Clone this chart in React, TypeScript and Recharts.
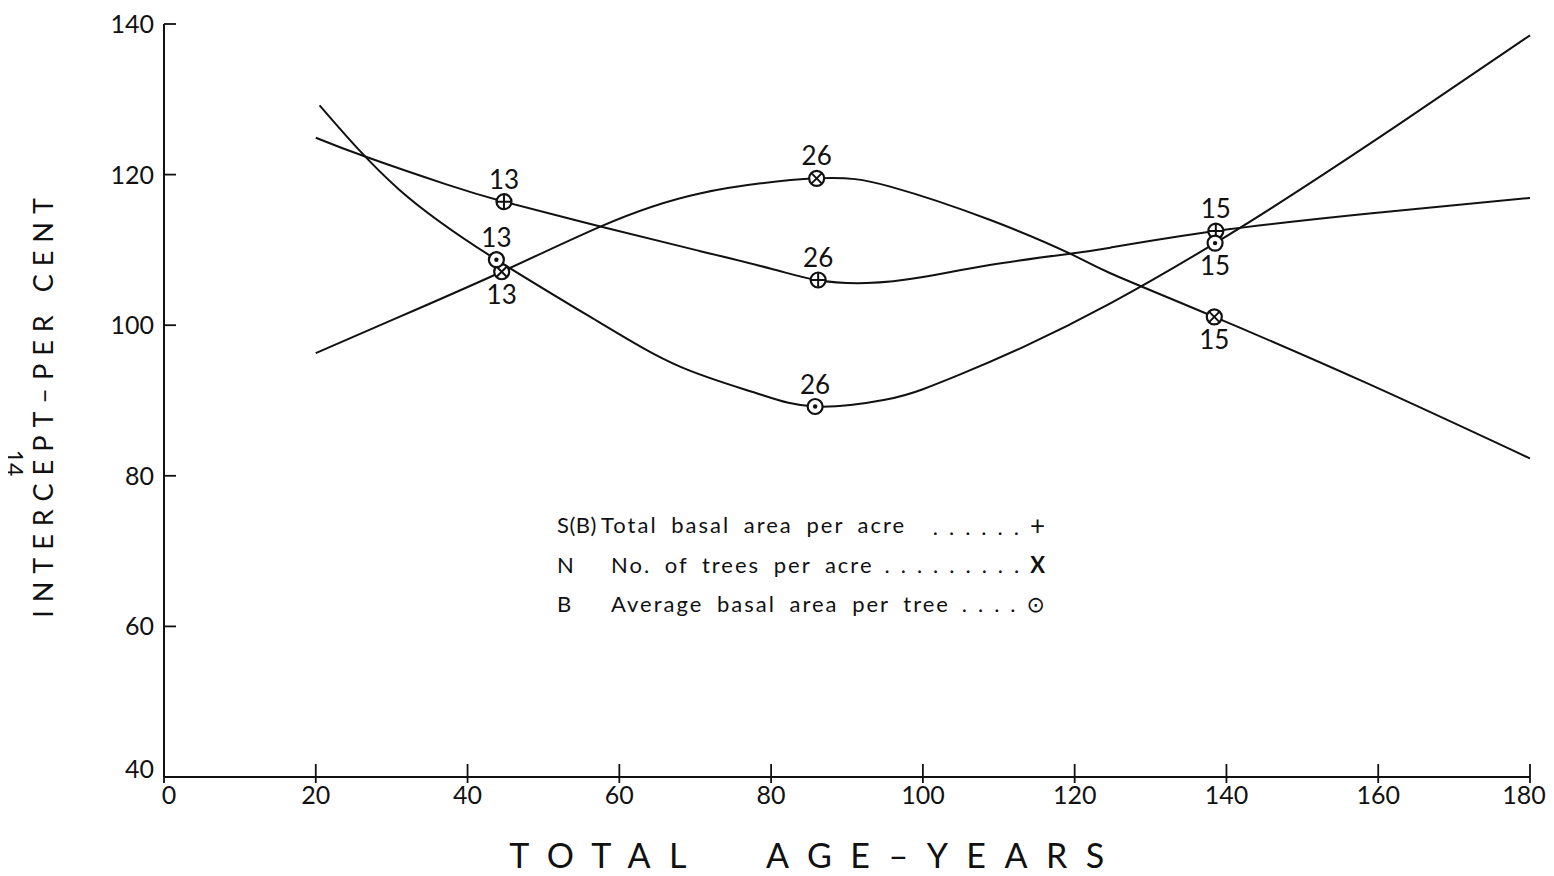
import React from 'react'
import { ComposedChart, Line, Scatter, XAxis, YAxis } from 'recharts'

const ageTicks = [0, 20, 40, 60, 80, 100, 120, 140, 160, 180]
const pctTicks = [40, 60, 80, 100, 120, 140]

// S(B) total basal area per acre
const sbAge = [20, 26.5, 37.2, 44.8, 57.5, 70, 80, 86, 92.6, 100, 108.8, 119.4, 124.7, 138.6, 158.5, 180]
const sbPct = [124.9, 122.4, 118.7, 116.4, 113.1, 110.0, 107.5, 106.0, 105.6, 106.4, 108.0, 109.5, 110.3, 112.5, 114.8, 116.9]

// N no. of trees per acre
const nAge = [20, 31, 44.5, 57.5, 70.6, 86, 95.7, 108.8, 119.4, 124.7, 138.4, 158.5, 180]
const nPct = [96.3, 101.1, 107.1, 113.1, 117.5, 119.5, 118.4, 114.0, 109.5, 106.9, 101.1, 92.3, 82.3]

// B average basal area per tree
const bAge = [20.5, 31, 43.8, 57.5, 68, 78, 85.8, 95, 100, 105, 113.2, 124.7, 138.5, 149.7, 162.9, 180]
const bPct = [129.2, 118.0, 108.7, 100.3, 94.5, 91.0, 89.2, 90.1, 91.5, 93.5, 97.1, 102.9, 110.9, 118.0, 126.8, 138.5]

// plotted sample points, number of plots in each
const plotCounts = [13, 26, 15]
const sbMarkAge = [44.8, 86.2, 138.6]
const sbMarkPct = [116.4, 106.0, 112.5]
const nMarkAge = [44.5, 86, 138.4]
const nMarkPct = [107.1, 119.5, 101.1]
const bMarkAge = [43.8, 85.8, 138.5]
const bMarkPct = [108.7, 89.2, 110.9]
const sbLabelBelow = [false, false, false]
const nLabelBelow = [true, false, true]
const bLabelBelow = [false, false, true]

const ink = '#111'
const font = 'Lato, "DejaVu Sans", sans-serif'

const toLine = (xs: number[], ys: number[]) => xs.map((x, i) => ({ x, y: ys[i] }))
const toMarks = (xs: number[], ys: number[], below: boolean[]) =>
  xs.map((x, i) => ({ x, y: ys[i], count: plotCounts[i], below: below[i] }))

const sbLine = toLine(sbAge, sbPct)
const nLine = toLine(nAge, nPct)
const bLine = toLine(bAge, bPct)
const sbMarks = toMarks(sbMarkAge, sbMarkPct, sbLabelBelow)
const nMarks = toMarks(nMarkAge, nMarkPct, nLabelBelow)
const bMarks = toMarks(bMarkAge, bMarkPct, bLabelBelow)

function makeMarker(kind: 'plus' | 'cross' | 'dot') {
  return (props: any) => {
    const { cx, cy, payload } = props
    const r = 7.5
    const d = r * 0.7
    const ty = payload.below ? cy + 32 : cy - 13
    return (
      <g>
        <circle cx={cx} cy={cy} r={r} fill="#fff" stroke={ink} strokeWidth={2.2} />
        {kind === 'plus' && (
          <path d={`M${cx - r} ${cy}H${cx + r}M${cx} ${cy - r}V${cy + r}`} stroke={ink} strokeWidth={2} />
        )}
        {kind === 'cross' && (
          <path d={`M${cx - d} ${cy - d}L${cx + d} ${cy + d}M${cx - d} ${cy + d}L${cx + d} ${cy - d}`} stroke={ink} strokeWidth={2} />
        )}
        {kind === 'dot' && <circle cx={cx} cy={cy} r={2.2} fill={ink} />}
        <text x={cx} y={ty} textAnchor="middle" fontFamily={font} fontSize={26} fill={ink}>
          {payload.count}
        </text>
      </g>
    )
  }
}

const XTick = (props: any) => {
  const { x, y, payload } = props
  const shift = payload.value === 0 ? 5 : payload.value === 180 ? -6 : 0
  return (
    <g>
      <line x1={x} x2={x} y1={y - 13} y2={y + 6} stroke={ink} strokeWidth={1.8} />
      <text x={x + shift} y={y + 27} textAnchor="middle" fontFamily={font} fontSize={25} fill={ink}>
        {payload.value}
      </text>
    </g>
  )
}

const YTick = (props: any) => {
  const { x, y, payload } = props
  return (
    <g>
      <line x1={x} x2={x + 12} y1={y} y2={y} stroke={ink} strokeWidth={1.8} />
      <text x={x - 10} y={y + (payload.value === 40 ? 1 : 9)} textAnchor="end" fontFamily={font} fontSize={25} fill={ink}>
        {payload.value}
      </text>
    </g>
  )
}

const legendRows = [
  { key: 'S(B)', text: 'Total basal area per acre', dots: '......', sym: '+', textLeft: 601 },
  { key: 'N', text: 'No. of trees per acre', dots: '.........', sym: 'X', textLeft: 611 },
  { key: 'B', text: 'Average basal area per tree', dots: '....', sym: '⊙', textLeft: 611 },
]
const legendTops = [503, 543, 582]

export default function App() {
  return (
    <div style={{ position: 'relative', width: 1538, height: 868, background: '#fff', fontFamily: font, color: ink }}>
      <ComposedChart width={1538} height={868} margin={{ top: 16, right: 16, left: 0, bottom: 0 }}>
        <XAxis
          type="number"
          dataKey="x"
          domain={[0, 180]}
          ticks={ageTicks}
          interval={0}
          height={99}
          tickSize={0}
          tickMargin={0}
          tick={<XTick />}
          axisLine={{ stroke: ink, strokeWidth: 2 }}
          tickLine={false}
        />
        <YAxis
          type="number"
          dataKey="y"
          domain={[40, 140]}
          ticks={pctTicks}
          interval={0}
          width={156}
          tickSize={0}
          tickMargin={0}
          tick={<YTick />}
          axisLine={{ stroke: ink, strokeWidth: 2 }}
          tickLine={false}
        />
        <Line data={sbLine} dataKey="y" type="natural" stroke={ink} strokeWidth={2} dot={false} activeDot={false} isAnimationActive={false} />
        <Line data={nLine} dataKey="y" type="natural" stroke={ink} strokeWidth={2} dot={false} activeDot={false} isAnimationActive={false} />
        <Line data={bLine} dataKey="y" type="natural" stroke={ink} strokeWidth={2} dot={false} activeDot={false} isAnimationActive={false} />
        <Scatter data={sbMarks} dataKey="y" shape={makeMarker('plus')} isAnimationActive={false} />
        <Scatter data={nMarks} dataKey="y" shape={makeMarker('cross')} isAnimationActive={false} />
        <Scatter data={bMarks} dataKey="y" shape={makeMarker('dot')} isAnimationActive={false} />
      </ComposedChart>

      {legendRows.map((row, i) => (
        <div key={row.key} style={{ position: 'absolute', top: legendTops[i], left: 549, width: 488, height: 28, fontSize: 22, lineHeight: '28px', whiteSpace: 'nowrap' }}>
          <span style={{ position: 'absolute', left: 0, letterSpacing: 0.5 }}>{row.key}</span>
          <span style={{ position: 'absolute', left: row.textLeft - 557, letterSpacing: 2, wordSpacing: 6 }}>{row.text}</span>
          <span style={{ position: 'absolute', right: 0 }}>
            <span style={{ letterSpacing: 11 }}>{row.dots}</span>
            <span style={{ fontSize: row.sym === '+' ? 26 : 22, fontWeight: row.sym === 'X' ? 700 : 400 }}>{row.sym}</span>
          </span>
        </div>
      ))}

      <div
        style={{
          position: 'absolute',
          left: 35,
          top: 396,
          transform: 'translate(-50%, -50%) rotate(-90deg)',
          fontSize: 27,
          lineHeight: '30px',
          letterSpacing: 8,
          whiteSpace: 'nowrap',
        }}
      >
        INTERCEPT–PER CENT
      </div>
      <div
        style={{
          position: 'absolute',
          left: 6,
          top: 455,
          transform: 'translate(-50%, -50%) rotate(90deg)',
          fontSize: 23,
          lineHeight: '23px',
          whiteSpace: 'nowrap',
        }}
      >
        14
      </div>
      <div
        style={{
          position: 'absolute',
          left: 808,
          top: 830,
          transform: 'translateX(-50%)',
          fontSize: 34,
          lineHeight: '34px',
          letterSpacing: 18.5,
          wordSpacing: 36,
          whiteSpace: 'nowrap',
        }}
      >
        TOTAL AGE–YEARS
      </div>
    </div>
  )
}
